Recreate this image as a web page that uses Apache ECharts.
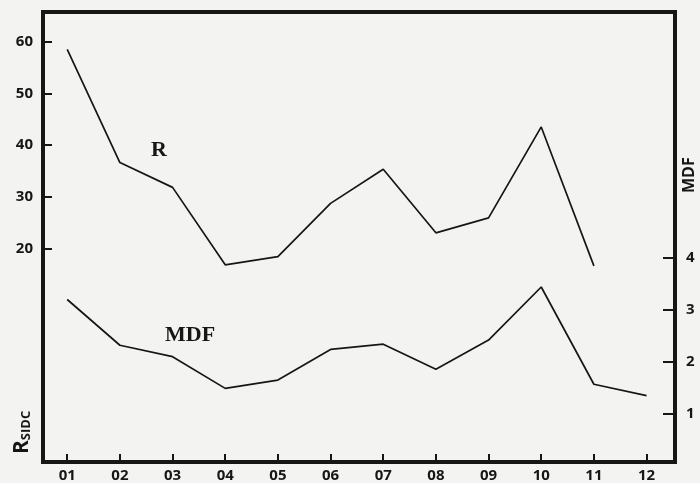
<!DOCTYPE html>
<html>
<head>
<meta charset="utf-8">
<script src="https://cdn.jsdelivr.net/npm/echarts@6/dist/echarts.min.js"></script>
<style>
  html, body { margin: 0; padding: 0; background: #f3f3f1; }
  #chart { width: 700px; height: 483px; }
</style>
</head>
<body>
<div id="chart"></div>
<script>
// months on the x axis
const months = [1, 2, 3, 4, 5, 6, 7, 8, 9, 10, 11, 12];
const monthLabels = ['01', '02', '03', '04', '05', '06', '07', '08', '09', '10', '11', '12'];

// R (SIDC) - left axis, no value for 12
const rValues = [58.5, 36.6, 31.8, 16.8, 18.4, 28.7, 35.3, 23.0, 25.9, 43.5, 16.6];
// MDF - right axis
const mdfValues = [3.19, 2.31, 2.09, 1.48, 1.64, 2.23, 2.33, 1.85, 2.41, 3.43, 1.56, 1.34];

const rTicks = [20, 30, 40, 50, 60];
const mdfTicks = [1, 2, 3, 4];

const ink = '#161616';
const labelFont = {
  color: ink,
  fontFamily: 'Open Sans',
  fontWeight: 'bold',
  fontSize: 15
};

const chart = echarts.init(document.getElementById('chart'));

const option = {
  backgroundColor: '#f3f3f1',
  animation: false,
  grid: {
    left: 43,
    right: 25,
    top: 12,
    bottom: 21,
    show: true,
    borderColor: ink,
    borderWidth: 4,
    backgroundColor: 'transparent'
  },
  xAxis: {
    type: 'value',
    min: 0.54,
    max: 12.54,
    axisLine: { show: false, onZero: false },
    splitLine: { show: false },
    axisTick: {
      show: true,
      inside: true,
      length: 8,
      customValues: months,
      lineStyle: { color: ink, width: 2 }
    },
    axisLabel: Object.assign({
      margin: 6,
      customValues: months,
      formatter: v => monthLabels[Math.round(v) - 1]
    }, labelFont)
  },
  yAxis: [
    {
      type: 'value',
      position: 'left',
      min: -21.37,
      max: 65.75,
      axisLine: { show: false, onZero: false },
      splitLine: { show: false },
      axisTick: {
        show: true,
        inside: true,
        length: 9,
        customValues: rTicks,
        lineStyle: { color: ink, width: 2 }
      },
      axisLabel: Object.assign({ margin: 10, customValues: rTicks }, labelFont)
    },
    {
      type: 'value',
      position: 'right',
      min: 0.064,
      max: 8.72,
      axisLine: { show: false, onZero: false },
      splitLine: { show: false },
      axisTick: {
        show: true,
        inside: true,
        length: 12,
        customValues: mdfTicks,
        lineStyle: { color: ink, width: 2 }
      },
      axisLabel: Object.assign({ margin: 11, customValues: mdfTicks }, labelFont)
    }
  ],
  series: [
    {
      name: 'R',
      type: 'line',
      yAxisIndex: 0,
      symbol: 'none',
      lineStyle: { color: ink, width: 1.7 },
      data: rValues.map((v, i) => [months[i], v])
    },
    {
      name: 'MDF',
      type: 'line',
      yAxisIndex: 1,
      symbol: 'none',
      lineStyle: { color: ink, width: 1.7 },
      data: mdfValues.map((v, i) => [months[i], v])
    }
  ],
  graphic: [
    // series annotations
    {
      type: 'text', left: 151, top: 139,
      style: { text: 'R', fill: ink, font: 'bold 22px "Liberation Serif"' }
    },
    {
      type: 'text', left: 165, top: 324,
      style: { text: 'MDF', fill: ink, font: 'bold 22px "Liberation Serif"' }
    },
    // axis names
    {
      type: 'text', x: 11, y: 454, rotation: Math.PI / 2,
      style: {
        text: '{r|R}{s|SIDC}',
        fill: ink,
        rich: {
          r: { fontFamily: 'Open Sans', fontWeight: 'bold', fontSize: 21, color: ink },
          s: { fontFamily: 'Open Sans', fontWeight: 'bold', fontSize: 13, color: ink, padding: [9, 0, 0, 0] }
        }
      }
    },
    {
      type: 'text', x: 681, y: 193, rotation: Math.PI / 2,
      style: { text: 'MDF', fill: ink, font: 'bold 16px "Open Sans"' }
    }
  ]
};

chart.setOption(option);
</script>
</body>
</html>
